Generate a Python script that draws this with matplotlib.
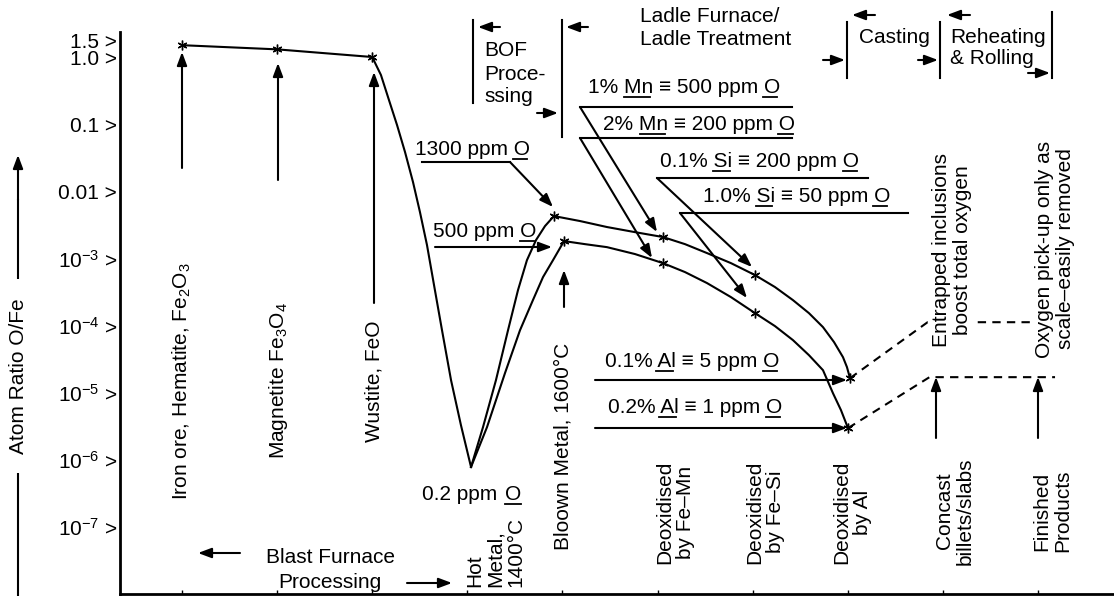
import matplotlib
matplotlib.use('Agg')
import matplotlib.pyplot as plt
import matplotlib.transforms as mtransforms
from matplotlib.lines import Line2D
from matplotlib.patches import FancyArrowPatch
from matplotlib.textpath import TextPath
from matplotlib.font_manager import FontProperties

plt.rcParams['font.family'] = ['Liberation Sans', 'DejaVu Sans']
plt.rcParams['mathtext.fontset'] = 'custom'
plt.rcParams['mathtext.rm'] = 'Liberation Sans'
plt.rcParams['mathtext.it'] = 'Liberation Sans:italic'
plt.rcParams['mathtext.bf'] = 'Liberation Sans:bold'
plt.rcParams['mathtext.default'] = 'regular'

W, H = 1114, 596
FS = 15

# atom ratio O/Fe along the process route (x = process stage index)
top_x = [1, 2, 3]
top_y = [1.5, 1.3, 1.0]
descent_x = [3.0, 3.092, 3.176, 3.261, 3.345, 3.429, 3.502, 3.576, 3.650, 3.734, 3.829, 3.933, 4.039]
descent_y = [1.0, 0.539, 0.229, 0.097, 0.0384, 0.0137, 4.9e-3, 1.58e-3, 4.0e-4, 8.5e-5, 1.53e-5, 3.28e-6, 7.8e-7]
upper_rise_x = [4.039, 4.165, 4.301, 4.428, 4.533, 4.627, 4.722, 4.817, 4.911]
upper_rise_y = [7.8e-7, 3.06e-6, 1.53e-5, 8.5e-5, 3.37e-4, 9.4e-4, 1.87e-3, 3.03e-3, 4.27e-3]
lower_rise_x = [4.039, 4.207, 4.396, 4.554, 4.690, 4.796, 4.901, 5.017]
lower_rise_y = [7.8e-7, 3.06e-6, 1.95e-5, 8.5e-5, 2.39e-4, 5.26e-4, 9.4e-4, 1.81e-3]
upper_fall_x = [4.911, 5.185, 5.469, 5.763, 6.057, 6.289, 6.520, 6.772, 7.025, 7.235,
                7.424, 7.592, 7.740, 7.856, 7.950, 7.992, 8.024]
upper_fall_y = [4.27e-3, 3.60e-3, 2.93e-3, 2.46e-3, 2.08e-3, 1.63e-3, 1.20e-3, 8.5e-4, 5.64e-4, 3.74e-4,
                2.39e-4, 1.53e-4, 9.46e-5, 5.66e-5, 3.38e-5, 2.40e-5, 1.64e-5]
lower_fall_x = [5.017, 5.237, 5.469, 5.763, 6.057, 6.289, 6.520, 6.772, 7.025, 7.235,
                7.424, 7.592, 7.740, 7.845, 7.929, 8.003]
lower_fall_y = [1.81e-3, 1.63e-3, 1.47e-3, 1.16e-3, 8.5e-4, 6.25e-4, 4.29e-4, 2.65e-4, 1.53e-4, 9.8e-5,
                6.06e-5, 3.62e-5, 2.16e-5, 9.8e-6, 5.49e-6, 2.96e-6]
star_x = [1, 2, 3, 4.911, 6.057, 7.025, 8.024, 5.017, 6.057, 7.025, 8.003]
star_y = [1.5, 1.3, 1.0, 4.27e-3, 2.08e-3, 5.64e-4, 1.64e-5, 1.81e-3, 8.5e-4, 1.53e-4, 2.96e-6]
dash_upper_x = [8.024, 8.84, 9.92]
dash_upper_y = [1.64e-5, 1.12e-4, 1.12e-4]
dash_lower_x = [8.003, 8.86, 10.18]
dash_lower_y = [2.96e-6, 1.7e-5, 1.7e-5]

ytick_vals = [1.5, 1.0, 0.1, 0.01, 1e-3, 1e-4, 1e-5, 1e-6, 1e-7]
ytick_labels = ['1.5 >', '1.0 >', '0.1 >', '0.01 >', r'$10^{-3}$ >', r'$10^{-4}$ >',
                r'$10^{-5}$ >', r'$10^{-6}$ >', r'$10^{-7}$ >']

fig = plt.figure(figsize=(W / 100, H / 100), dpi=100)
ax = fig.add_axes([120 / W, 2 / H, (W - 120) / W, 562 / H])
ax.set_yscale('log')
ax.set_xlim(0.348, 10.80)
ax.set_ylim(1e-8, 10 ** 0.3726)
for s in ['top', 'right']:
    ax.spines[s].set_visible(False)
for s in ['left', 'bottom']:
    ax.spines[s].set_linewidth(2)
ax.set_xticks(range(1, 11))
ax.set_xticklabels([])
ax.tick_params(axis='x', direction='in', length=3, width=1)
ax.set_yticks(ytick_vals)
ax.set_yticklabels(ytick_labels, fontsize=FS)
ax.minorticks_off()
ax.tick_params(axis='y', length=0, pad=2)
lab15 = ax.get_yticklabels()[0]
lab15.set_transform(lab15.get_transform() + mtransforms.ScaledTranslation(0, 5 / 100, fig.dpi_scale_trans))

kw = dict(color='k', lw=1.5)
ax.plot(top_x, top_y, **kw)
ax.plot(descent_x, descent_y, **kw)
ax.plot(upper_rise_x, upper_rise_y, **kw)
ax.plot(lower_rise_x, lower_rise_y, **kw)
ax.plot(upper_fall_x, upper_fall_y, **kw)
ax.plot(lower_fall_x, lower_fall_y, **kw)
ax.plot(dash_upper_x, dash_upper_y, color='k', lw=1.5, ls=(0, (4, 3)))
ax.plot(dash_lower_x, dash_lower_y, color='k', lw=1.5, ls=(0, (4, 3)))
ax.plot(star_x, star_y, ls='none', marker=(6, 2, 0), ms=7, mec='k', mew=1)


# ---- annotation helpers, positions in figure pixels from top-left ----
def F(px, py):
    return (px / W, 1 - py / H)


def fline(xs, ys, lw=1.5, **k):
    k.setdefault('color', 'k')
    fig.add_artist(Line2D([x / W for x in xs], [1 - y / H for y in ys], lw=lw, **k))


def farrow(x0, y0, x1, y1):
    fig.add_artist(FancyArrowPatch(F(x0, y0), F(x1, y1), transform=fig.transFigure,
                                   arrowstyle='-|>,head_length=0.4,head_width=0.15',
                                   mutation_scale=20, lw=1.5, color='k',
                                   shrinkA=0, shrinkB=0))


def ftext(px, py, s, **k):
    k.setdefault('fontsize', FS)
    return fig.text(px / W, 1 - py / H, s, **k)


fprop = FontProperties(family='Liberation Sans', size=FS)


def tw(s):
    # ink width in pixels (points -> pixels at 100 dpi)
    return TextPath((0, 0), s, prop=fprop).get_extents().width * 100 / 72


def ul_text(px, py, parts):
    # text with some parts underlined (O, Mn, Si, Al as dissolved elements)
    ftext(px, py, ''.join(s for s, _ in parts), ha='left', va='baseline')
    pre = ''
    for s, u in parts:
        if u:
            x0 = px + (tw(pre + s) - tw(s) if pre else 0)
            fline([x0, x0 + tw(s)], [py + 4, py + 4], lw=1.3)
        pre += s


# y-axis label with arrow
fline([18, 18], [595, 200])
farrow(18, 200, 18, 155)
ftext(19, 376, 'Atom Ratio O/Fe', rotation=90, ha='center', va='center',
      bbox=dict(fc='white', ec='none', pad=14))

# iron oxides
rot = dict(rotation=90, ha='center', va='center', multialignment='center', linespacing=1.1)
ftext(182, 381, 'Iron ore, Hematite, Fe$_2$O$_3$', **rot)
ftext(278, 381, 'Magnetite Fe$_3$O$_4$', **rot)
ftext(374, 381, 'Wustite, FeO', **rot)
farrow(182, 168, 182, 52)
farrow(278, 180, 278, 63)
farrow(374, 303, 374, 72)

# blast furnace
ftext(330, 563, 'Blast Furnace', ha='center', va='baseline')
ftext(330, 588, 'Processing', ha='center', va='baseline')
farrow(240, 553, 198, 553)
farrow(407, 583, 452, 583)
ftext(422, 500, '0.2 ppm', ha='left', va='baseline')
ftext(505, 500, 'O', ha='left', va='baseline')
fline([505, 521], [504, 504], lw=1.3)
ftext(495, 587, 'Hot\nMetal,\n1400°C', rotation=90, ha='center', va='bottom',
      multialignment='left', linespacing=1.1)

# BOF
ftext(563, 446, 'Bloown Metal, 1600°C', **rot)
farrow(564, 307, 564, 270)
ul_text(415, 155, [('1300 ppm ', False), ('O', True)])
fline([422, 510], [162, 162])
farrow(510, 162, 553, 207)
ul_text(433, 237, [('500 ppm ', False), ('O', True)])
farrow(435, 247, 552, 247)

# process brackets
fline([473, 473], [20, 103])
farrow(500, 27, 478, 27)
ftext(484, 56, 'BOF', va='baseline')
ftext(484, 80, 'Proce-', va='baseline')
ftext(484, 102, 'ssing', va='baseline')
farrow(537, 113, 558, 113)
fline([562, 562], [20, 137])
farrow(588, 27, 566, 27)
ftext(640, 22, 'Ladle Furnace/', va='baseline')
ftext(640, 45, 'Ladle Treatment', va='baseline')
farrow(823, 60, 845, 60)
fline([847, 847], [22, 78])
farrow(875, 15, 852, 15)
ftext(859, 43, 'Casting', va='baseline')
farrow(918, 60, 938, 60)
fline([940, 940], [22, 78])
farrow(970, 15, 947, 15)
ftext(950, 43, 'Reheating', va='baseline')
ftext(950, 64, '& Rolling', va='baseline')
farrow(1028, 73, 1050, 73)
fline([1052, 1052], [12, 78])

# deoxidation
ul_text(588, 93, [('1% ', False), ('Mn', True), (' ≡ 500 ppm ', False), ('O', True)])
fline([580, 792], [107, 107])
farrow(580, 107, 657, 232)
ul_text(603, 130, [('2% ', False), ('Mn', True), (' ≡ 200 ppm ', False), ('O', True)])
fline([580, 792], [138, 138])
farrow(580, 138, 652, 258)
ul_text(660, 167, [('0.1% ', False), ('Si', True), (' ≡ 200 ppm ', False), ('O', True)])
fline([657, 868], [178, 178])
farrow(657, 178, 752, 267)
ul_text(703, 202, [('1.0% ', False), ('Si', True), (' ≡ 50 ppm ', False), ('O', True)])
fline([680, 908], [213, 213])
farrow(680, 213, 747, 298)
ul_text(605, 367, [('0.1% ', False), ('Al', True), (' ≡ 5 ppm ', False), ('O', True)])
farrow(595, 380, 847, 380)
ul_text(608, 413, [('0.2% ', False), ('Al', True), (' ≡ 1 ppm ', False), ('O', True)])
farrow(595, 428, 847, 428)

ftext(675, 512, 'Deoxidised\nby Fe–Mn', **rot)
ftext(765, 512, 'Deoxidised\nby Fe–Si', **rot)
ftext(852, 512, 'Deoxidised\nby Al', **rot)

# casting and rolling
ftext(955, 511, 'Concast\nbillets/slabs', **rot)
ftext(1052, 511, 'Finished\nProducts', **rot)
farrow(936, 438, 936, 377)
farrow(1038, 438, 1038, 377)
ftext(952, 250, 'Entrapped inclusions\nboost total oxygen',
      bbox=dict(fc='white', ec='none', pad=2), **rot)
ftext(1055, 249, 'Oxygen pick-up only as\nscale–easily removed',
      bbox=dict(fc='white', ec='none', pad=2), **rot)

fig.savefig('out.png', dpi=100)
